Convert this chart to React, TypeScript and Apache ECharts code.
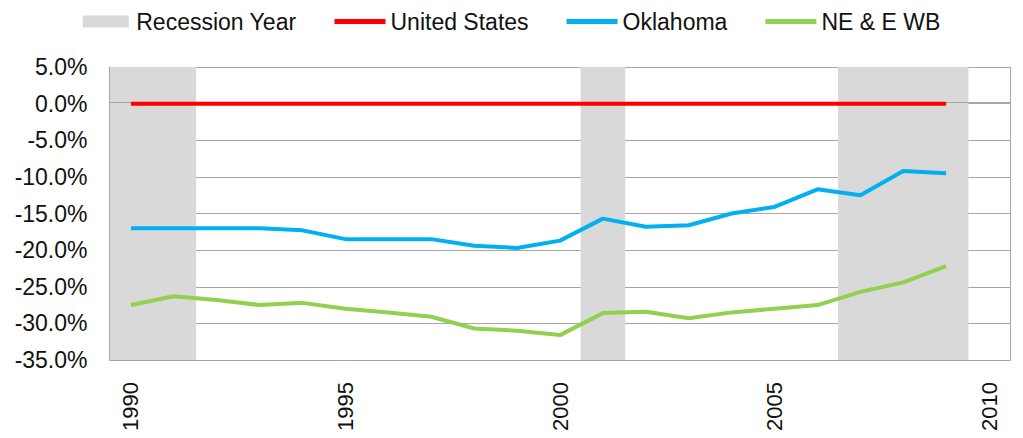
import React, { useEffect, useRef } from "react";
import * as echarts from "echarts";

const years = ["1990","1991","1992","1993","1994","1995","1996","1997","1998","1999","2000","2001","2002","2003","2004","2005","2006","2007","2008","2009","2010"];
const recessionFlags = [1,1,0,0,0,0,0,0,0,0,0,1,0,0,0,0,0,1,1,1,0];
const unitedStates = [0,0,0,0,0,0,0,0,0,0,0,0,0,0,0,0,0,0,0,0];
const oklahoma = [-17.0,-17.0,-17.0,-17.0,-17.3,-18.5,-18.5,-18.5,-19.4,-19.7,-18.7,-15.7,-16.8,-16.6,-15.0,-14.1,-11.7,-12.5,-9.2,-9.5];
const neEWB = [-27.5,-26.3,-26.8,-27.5,-27.2,-28.0,-28.5,-29.1,-30.7,-31.0,-31.6,-28.6,-28.4,-29.3,-28.5,-28.0,-27.5,-25.7,-24.4,-22.2];

const FONT = "'Liberation Sans', Arial, sans-serif";
const GRID_COLOR = "#a6a6a6";
const BAND_COLOR = "#d9d9d9";
const LINE_ICON = "path://M0,0H51V5H0Z";

export default function App() {
  const ref = useRef<HTMLDivElement>(null);
  useEffect(() => {
    const chart = echarts.init(ref.current!, null, { renderer: "svg" });
    chart.setOption({
      animation: false,
      textStyle: { fontFamily: FONT, color: "#000" },
      legend: {
        top: 5,
        left: "center",
        itemGap: 38,
        itemWidth: 51,
        itemHeight: 12,
        textStyle: { fontSize: 23, color: "#111", fontFamily: FONT },
        data: [
          { name: "Recession Year", icon: "path://M0,0H46V12H0Z" },
          { name: "United States", icon: LINE_ICON },
          { name: "Oklahoma", icon: LINE_ICON },
          { name: "NE & E WB", icon: LINE_ICON },
        ],
      },
      grid: { left: 109.5, right: 12.5, top: 67, bottom: 78 },
      xAxis: {
        type: "category",
        data: years,
        boundaryGap: true,
        axisLine: { show: false },
        axisTick: { show: false },
        axisLabel: { rotate: 90, interval: 4, fontSize: 22, color: "#111", margin: 22, fontFamily: FONT },
        splitLine: { show: false },
      },
      yAxis: [
        {
          type: "value",
          min: -35,
          max: 5,
          interval: 5,
          axisLine: { show: false },
          axisTick: { show: false },
          splitLine: { show: true, lineStyle: { color: GRID_COLOR, width: 1 } },
          axisLabel: { fontSize: 23, color: "#111", margin: 22, fontFamily: FONT, formatter: (v: number) => v.toFixed(1) + "%" },
        },
        {
          type: "value",
          position: "right",
          min: 0,
          max: 1,
          axisLine: { show: true, lineStyle: { color: GRID_COLOR, width: 1 } },
          axisTick: { show: false },
          axisLabel: { show: false },
          splitLine: { show: false },
        },
        {
          type: "value",
          position: "left",
          min: 0,
          max: 1,
          z: 3,
          axisLine: { show: true, lineStyle: { color: GRID_COLOR, width: 1 } },
          axisTick: { show: false },
          axisLabel: { show: false },
          splitLine: { show: false },
        },
      ],
      series: [
        {
          name: "Recession Year",
          type: "bar",
          yAxisIndex: 1,
          z: 1,
          barWidth: "104%",
          itemStyle: { color: BAND_COLOR },
          data: recessionFlags.map((f) => (f ? 1 : "-")),
          markLine: {
            silent: true,
            symbol: "none",
            z: 2,
            label: { show: false },
            lineStyle: { color: GRID_COLOR, width: 1, type: "solid" },
            data: [{ yAxis: 0.875 }],
          },
        },
        {
          name: "United States",
          type: "line",
          z: 5,
          symbol: "none",
          lineStyle: { color: "#ff0000", width: 4 },
          itemStyle: { color: "#ff0000" },
          data: unitedStates,
        },
        {
          name: "Oklahoma",
          type: "line",
          z: 5,
          symbol: "none",
          lineStyle: { color: "#00b0f0", width: 4 },
          itemStyle: { color: "#00b0f0" },
          data: oklahoma,
        },
        {
          name: "NE & E WB",
          type: "line",
          z: 5,
          symbol: "none",
          lineStyle: { color: "#92d050", width: 4 },
          itemStyle: { color: "#92d050" },
          data: neEWB,
        },
      ],
    });
    return () => chart.dispose();
  }, []);
  return <div ref={ref} style={{ position: "absolute", left: 0, top: 0, width: 1023, height: 438 }} />;
}
